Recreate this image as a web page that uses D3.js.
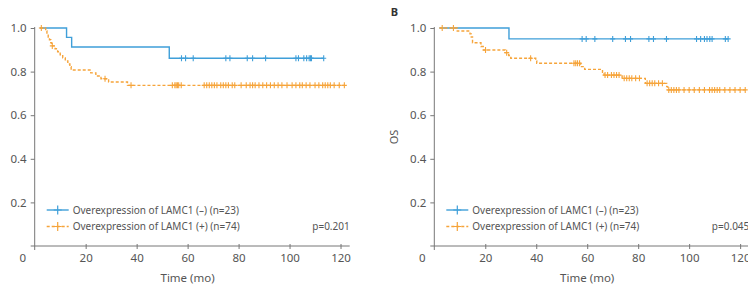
<!DOCTYPE html>
<html>
<head>
<meta charset="utf-8">
<script src="https://cdn.jsdelivr.net/npm/d3@7"></script>
<style>
  body { margin: 0; background: #fff; }
  svg { display: block; font-family: "Noto Sans", "Open Sans", sans-serif; }
</style>
</head>
<body>
<svg></svg>
<script>
//chart values
var xTicks = [20, 40, 60, 80, 100, 120];
var yTicks = [0.2, 0.4, 0.6, 0.8, 1.0];
var legendLabels = ["Overexpression of LAMC1 (\u2013) (n=23)", "Overexpression of LAMC1 (+) (n=74)"];
var pValues = ["p=0.201", "p=0.045"];

// panel A (left)
var aBlueTime = [2, 12.5, 14.5, 52.8, 113.4];
var aBlueSurv = [1, 0.957, 0.913, 0.861, 0.861];
var aBlueCens = [57.6, 59.2, 62.2, 75, 76.6, 83.4, 85.5, 90.6, 102.5, 103.5, 105.6, 106.7, 107.7, 108.2, 108.6, 113.4];

var aOrangeTime = [2, 4.3, 4.8, 5.3, 5.8, 6.3, 6.7, 8, 9, 10, 11, 12, 13, 13.8, 14.3, 22, 24, 26, 29, 36.4, 121.7];
var aOrangeSurv = [1, 0.986, 0.973, 0.959, 0.946, 0.932, 0.918, 0.905, 0.891, 0.877, 0.863, 0.849, 0.835, 0.822, 0.807, 0.794, 0.780, 0.767, 0.752, 0.737, 0.737];
var aOrangeCens = [2.6, 6.9, 27.6, 37.8, 54, 55, 55.5, 56, 56.5, 57.5, 66.5, 67.5, 68.5, 69.5, 70.5, 71.5,
                   73, 74, 75, 76, 77.5, 78.5, 81, 83, 84.5, 85.5, 86.5, 88, 89.5, 91, 92.5, 94, 95.5, 97,
                   99, 101, 102.5, 104, 105, 106.5, 108, 110, 111.5, 113, 114, 115, 116, 117.5, 119.5, 121.5];

// panel B (right)
var bBlueTime = [2, 29.3, 115.3];
var bBlueSurv = [1, 0.95, 0.95];
var bBlueCens = [58, 59.6, 63, 70, 75, 77, 84.2, 86, 91.1, 102.9, 104.5, 106, 107, 108.1, 109, 114.2, 115.3];

var bOrangeTime = [2, 9, 14, 14.5, 15, 18.3, 19.2, 27.8, 29.2, 30, 39.8, 40.2, 57.4, 59, 66, 66.6, 73.7, 82.8, 91.2, 91.6, 122.6];
var bOrangeSurv = [1, 0.986, 0.973, 0.959, 0.932, 0.915, 0.899, 0.887, 0.874, 0.861, 0.849, 0.838, 0.823, 0.810, 0.797, 0.784, 0.769, 0.746, 0.731, 0.716, 0.716];
var bOrangeCens = [3.1, 7.5, 20.1, 28.4, 37.8, 54.8, 55.5, 56.2, 57, 67, 68, 69.5, 70.5, 71.5, 72.5,
                   74.5, 75.5, 76.5, 77.5, 79, 80.5, 83.5, 84.5, 85.5, 86.5, 88, 89.5,
                   92, 93, 94, 95, 96, 98, 100, 102, 104, 106, 108, 109, 110, 111, 112, 114, 116, 118, 120, 122];

var blue = "#3f9fd9";
var orange = "#f6a43a";
var textColor = "#555";
var axisColor = "#777";

var svg = d3.select("svg").attr("width", 748).attr("height", 288);

var x = d3.scaleLinear().domain([0, 123.6]).range([0, 315]);
var y = d3.scaleLinear().domain([0, 1]).range([246, 28]);

// survival value at time t (step lookup)
function survAt(times, survs, t) {
  var s = survs[0];
  for (var i = 0; i < times.length; i++) {
    if (times[i] <= t) s = survs[i];
  }
  return s;
}

function drawPanel(ox, curves, pText, label) {
  var g = svg.append("g").attr("transform", "translate(" + ox + ",0)");

  // x axis
  var xa = g.append("g").attr("transform", "translate(0,246)")
    .call(d3.axisBottom(x).tickValues(xTicks).tickSize(3).tickPadding(5));
  xa.select(".domain").remove();
  xa.selectAll(".tick line").attr("y1", -2).attr("stroke", axisColor);
  xa.selectAll("text").attr("fill", textColor).style("font-size", "11.5px").style("font-family", "Noto Sans");

  // y axis
  var ya = g.append("g")
    .call(d3.axisLeft(y).tickValues(yTicks).tickFormat(d3.format(".1f")).tickSize(4).tickPadding(4));
  ya.select(".domain").remove();
  ya.selectAll(".tick line").attr("stroke", axisColor);
  ya.selectAll("text").attr("fill", textColor).style("font-size", "11.5px").style("font-family", "Noto Sans");

  g.append("line").attr("x1", -4).attr("x2", x(123.6)).attr("y1", 246).attr("y2", 246)
    .attr("stroke", axisColor).attr("stroke-width", 1);
  g.append("line").attr("x1", 0).attr("x2", 0).attr("y1", 27).attr("y2", 250)
    .attr("stroke", axisColor).attr("stroke-width", 1);

  g.append("text").attr("x", -12).attr("y", 262).attr("text-anchor", "middle")
    .attr("fill", textColor).style("font-size", "11.5px").text("0");

  g.append("text").attr("x", x(60)).attr("y", 282).attr("text-anchor", "middle")
    .attr("fill", textColor).style("font-size", "11.5px").text("Time (mo)");

  if (label) {
    g.append("text").attr("x", -40).attr("y", 16).attr("text-anchor", "middle")
      .attr("fill", "#333").style("font-size", "11px").style("font-weight", "bold").text(label);
    g.append("text").attr("transform", "translate(-36,137) rotate(-90)").attr("text-anchor", "middle")
      .attr("fill", textColor).style("font-size", "11px").text("OS");
  }

  var line = d3.line()
    .x(function(d) { return x(d[0]); })
    .y(function(d) { return y(d[1]); })
    .curve(d3.curveStepAfter);

  curves.forEach(function(c) {
    var pts = c.time.map(function(t, i) { return [t, c.surv[i]]; });
    g.append("path").datum(pts)
      .attr("d", line)
      .attr("fill", "none")
      .attr("stroke", c.color)
      .attr("stroke-width", 1.4)
      .attr("stroke-dasharray", c.dash ? "3,2" : null);

    g.selectAll(null)
      .data(c.cens)
      .enter()
      .append("path")
      .attr("transform", function(t) {
        return "translate(" + x(t) + "," + y(survAt(c.time, c.surv, t)) + ")";
      })
      .attr("d", "M-2.5,0H2.5M0,-3V3")
      .attr("stroke", c.color)
      .attr("stroke-width", 1.1);
  });

  // legend
  curves.forEach(function(c, i) {
    var ly = 210 + i * 16.5;
    g.append("line").attr("x1", 12).attr("x2", 34).attr("y1", ly).attr("y2", ly)
      .attr("stroke", c.color).attr("stroke-width", 1.4)
      .attr("stroke-dasharray", c.dash ? "3,2" : null);
    g.append("path").attr("transform", "translate(23," + ly + ")")
      .attr("d", "M-4,0H4M0,-4.5V4.5").attr("stroke", c.color).attr("stroke-width", 1.2);
    g.append("text").attr("x", 38).attr("y", ly).attr("dy", "0.35em")
      .attr("fill", textColor).style("font-size", "10px").text(legendLabels[i]);
  });

  g.append("text").attr("x", x(123.6)).attr("y", 226.5).attr("dy", "0.35em")
    .attr("text-anchor", "end").attr("fill", textColor).style("font-size", "10px").text(pText);
}

drawPanel(34.7, [
  {time: aBlueTime, surv: aBlueSurv, cens: aBlueCens, color: blue, dash: false},
  {time: aOrangeTime, surv: aOrangeSurv, cens: aOrangeCens, color: orange, dash: true}
], pValues[0], null);

drawPanel(434.3, [
  {time: bBlueTime, surv: bBlueSurv, cens: bBlueCens, color: blue, dash: false},
  {time: bOrangeTime, surv: bOrangeSurv, cens: bOrangeCens, color: orange, dash: true}
], pValues[1], "B");
</script>
</body>
</html>
